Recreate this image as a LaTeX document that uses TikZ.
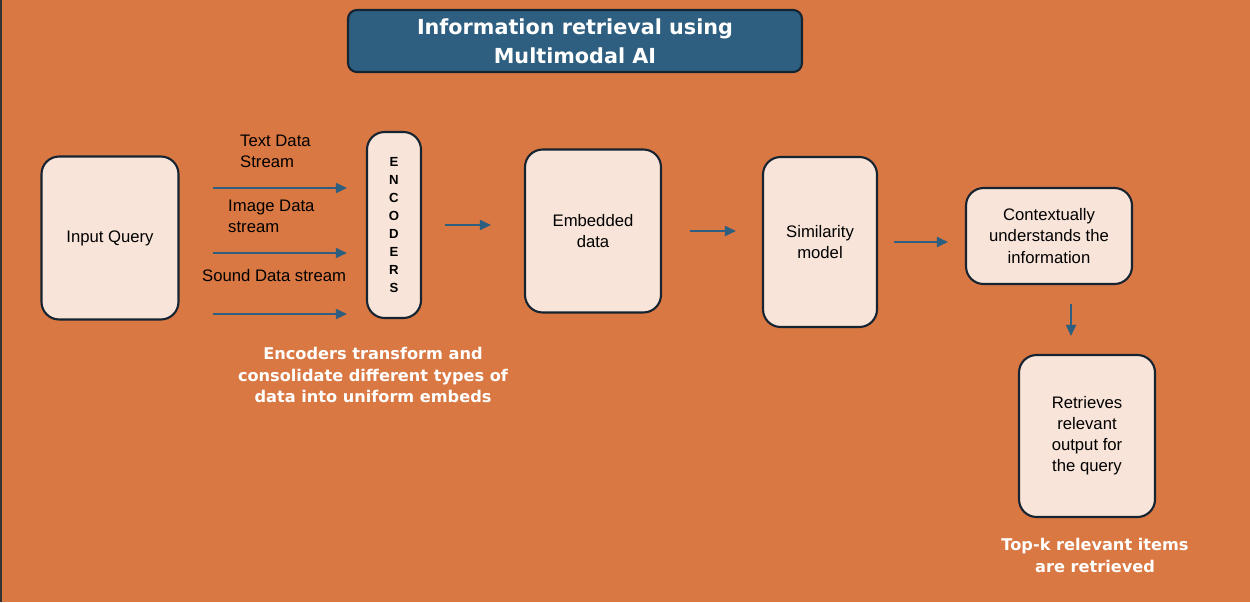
\documentclass[tikz,border=0pt]{standalone}
\usepackage{fontspec}
\setmainfont{Liberation Sans}
\newfontfamily\comicfont{DejaVu Sans}
\usetikzlibrary{arrows.meta,positioning,calc}
\definecolor{bgorange}{RGB}{217,120,66}
\definecolor{boxfill}{RGB}{248,228,216}
\definecolor{titleblue}{RGB}{46,95,128}
\definecolor{edgedark}{RGB}{22,36,50}
\begin{document}
\begin{tikzpicture}[x=0.02cm,y=-0.02cm,font=\fontsize{9.5}{12}\selectfont,
  box/.style={draw=edgedark,line width=1.2pt,rounded corners=10pt,fill=boxfill,align=center,inner sep=0pt},
  arr/.style={-{Triangle[length=2.2mm,width=2mm]},line width=1pt,draw=titleblue,color=titleblue},
  note/.style={text=white,align=center,font=\comicfont\bfseries\fontsize{9.2}{12.5}\selectfont}]
\fill[bgorange] (0,0) rectangle (1250,602);
\fill[black!80] (0,0) rectangle (2,602);
\node[box,fill=titleblue,rounded corners=5pt,minimum width=9.08cm,minimum height=1.24cm,text=white,font=\comicfont\bfseries\fontsize{11.8}{16.4}\selectfont] (title) at (575,41) {Information retrieval using\\Multimodal AI};
\node[box,minimum width=2.74cm,minimum height=3.26cm] (query) at (110,238) {Input Query};
\node[box,minimum width=1.08cm,minimum height=3.72cm,font=\bfseries\fontsize{7.5}{10.2}\selectfont] (enc) at (394,225) {E\\N\\C\\O\\D\\E\\R\\S};
\node[box,minimum width=2.72cm,minimum height=3.26cm] (emb) at (593,231) {Embedded\\data};
\node[box,minimum width=2.28cm,minimum height=3.4cm] (sim) at (820,242) {Similarity\\model};
\node[box,minimum width=3.32cm,minimum height=1.92cm] (ctx) at (1049,236) {Contextually\\understands the\\information};
\node[box,minimum width=2.72cm,minimum height=3.24cm] (ret) at (1087,436) {Retrieves\\relevant\\output for\\the query};
\node[anchor=west,align=left] (textlbl) at (234,151) {Text Data\\Stream};
\node[anchor=west,align=left] (imglbl) at (222,216) {Image Data\\stream};
\node[anchor=west,align=left] (sndlbl) at (196,276) {Sound Data stream};
\coordinate (t1) at (213,188);\coordinate (t2) at (213,253);\coordinate (t3) at (213,314);
\draw[arr,shorten >=0.38cm] (t1) -- (t1 -| enc.west);
\draw[arr,shorten >=0.38cm] (t2) -- (t2 -| enc.west);
\draw[arr,shorten >=0.38cm] (t3) -- (t3 -| enc.west);
\draw[arr,shorten <=0.46cm,shorten >=0.66cm] (enc.east) -- (enc.east -| emb.west);
\draw[arr,shorten <=0.56cm,shorten >=0.52cm] (emb.east) -- (emb.east -| sim.west);
\draw[arr,shorten <=0.32cm,shorten >=0.34cm] (sim.east) -- (sim.east -| ctx.west);
\draw[arr,shorten <=0.38cm,shorten >=0.36cm] ([xshift=0.44cm]ctx.south) -- ([xshift=0.44cm]ctx.south |- ret.north);
\node[note] (encnote) at (373,375) {Encoders transform and\\consolidate different types of\\data into uniform embeds};
\node[note] (retnote) at (1095,555) {Top-k relevant items\\are retrieved};
\end{tikzpicture}
\end{document}
